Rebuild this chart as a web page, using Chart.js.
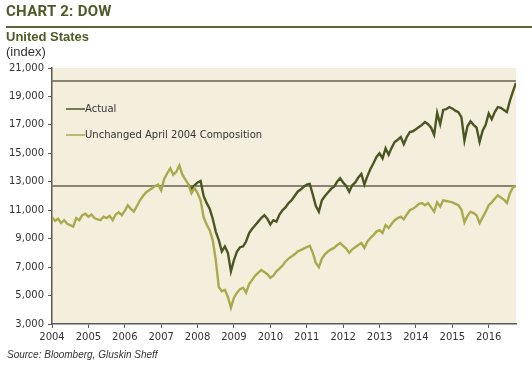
<!DOCTYPE html>
<html>
<head>
<meta charset="utf-8">
<script src="https://cdn.jsdelivr.net/npm/chart.js@4"></script>
<style>
  html, body { margin: 0; padding: 0; background: #fff; }
  #wrap { position: relative; width: 532px; height: 365px; overflow: hidden; }
  #chart { position: absolute; left: 0; top: 0; }
  .title { position: absolute; left: 6px; top: 2px; font: bold 15px "Liberation Sans Narrow", "Roboto", sans-serif; color: #4f5a28; letter-spacing: 0.3px; }
  .rule { position: absolute; left: 6px; right: 0; top: 26px; height: 2px; background: #5d633a; }
  .sub { position: absolute; left: 6px; top: 29px; font: bold 13px "Liberation Sans", sans-serif; color: #4f5a28; }
  .unit { position: absolute; left: 6px; top: 44px; font: 13px "Liberation Sans", sans-serif; color: #333; }
  .source { position: absolute; left: 7px; top: 349px; font: italic 10px "Liberation Sans", sans-serif; color: #333; }
</style>
</head>
<body>
<div id="wrap">
  <canvas id="chart" width="532" height="365"></canvas>
  <div class="title">CHART 2: DOW</div>
  <div class="rule"></div>
  <div class="sub">United States</div>
  <div class="unit">(index)</div>
  <div class="source">Source: Bloomberg, Gluskin Sheff</div>
</div>
<script>
// monthly readings, Jan 2004 .. Sep 2016 on the chart's own axis
const seriesNames = ['Actual', 'Unchanged April 2004 Composition'];

const unchanged = [
  10520, 10250, 10400, 10100, 10300, 10050, 9950, 9850, 10450, 10300, 10650, 10750,
  10550, 10700, 10450, 10350, 10300, 10550, 10450, 10600, 10300, 10700, 10850, 10650,
  10950, 11350, 11100, 10900, 11300, 11700, 12000, 12250, 12400, 12550, 12700, 12800,
  12400, 13200, 13600, 13950, 13500, 13700, 14150, 13500, 13150, 12800, 12200, 12550,
  12200, 11700, 10500, 10000, 9600, 8900, 7500, 5600, 5300, 5400, 4900, 4150,
  4850, 5200, 5450, 5550, 5200, 5800, 6100, 6400, 6600, 6800, 6650, 6500,
  6250, 6400, 6700, 6900, 7100, 7400, 7600, 7750, 7900, 8100, 8200, 8300,
  8400, 8500, 8000, 7300, 7000, 7600, 7900, 8100, 8250, 8350, 8550, 8700,
  8500, 8300, 8000, 8250, 8400, 8550, 8700, 8350, 8800, 9050, 9250, 9500,
  9600, 9400, 9950, 9750, 10050, 10300, 10450, 10550, 10350, 10700, 11000, 11100,
  11250, 11450, 11500, 11350, 11500, 11200, 10900, 11550, 11250, 11700, 11650, 11600,
  11550, 11450, 11350, 11050, 10150, 10600, 10900, 10800, 10650, 10100, 10500, 10900,
  11350, 11550, 11800, 12050, 11900, 11750, 11500, 12200, 12600, 12700
];

// actual index only shows once it leaves the unchanged line (late 2007)
const actual = [
  null, null, null, null, null, null, null, null, null, null, null, null,
  null, null, null, null, null, null, null, null, null, null, null, null,
  null, null, null, null, null, null, null, null, null, null, null, null,
  null, null, null, null, null, null, null, null, null, 12800, 12500, 12750,
  12950, 13050, 12000, 11500, 11100, 10400, 9500, 8900, 8100, 8450, 8000, 6700,
  7500, 8100, 8400, 8450, 8800, 9400, 9700, 9950, 10200, 10450, 10650, 10400,
  10000, 10300, 10200, 10700, 11000, 11200, 11500, 11700, 12000, 12300, 12450, 12650,
  12800, 12850, 12100, 11300, 10900, 11700, 12000, 12250, 12500, 12650, 13000, 13250,
  12950, 12700, 12300, 12750, 12950, 13300, 13550, 12800, 13400, 13900, 14300, 14750,
  15000, 14650, 15350, 14900, 15400, 15800, 15950, 16150, 15650, 16150, 16500, 16550,
  16700, 16850, 17000, 17200, 17050, 16800, 16300, 17850, 17050, 18050, 18100, 18250,
  18150, 18000, 17900, 17550, 15900, 16900, 17250, 17000, 16800, 15800, 16600, 17000,
  17800, 17400, 17900, 18250, 18200, 18050, 17900, 18700, 19350, 19950
];

const yearTicks = [2004, 2005, 2006, 2007, 2008, 2009, 2010, 2011, 2012, 2013, 2014, 2015, 2016];
const yTicks = [3000, 5000, 7000, 9000, 11000, 13000, 15000, 17000, 19000, 21000];
const refLevels = [20100, 12700];

const startYear = 2004;
const toPoints = arr => arr.map((v, i) => ({ x: startYear + i / 12, y: v }));
const lastX = startYear + (unchanged.length - 1) / 12;

const colActual = '#4c5622';
const colUnchanged = '#a9a94d';
const axisCol = '#5a5a5a';

const plotBg = {
  id: 'plotBg',
  beforeDraw(chart) {
    const a = chart.chartArea, ctx = chart.ctx;
    ctx.save();
    ctx.fillStyle = '#f4efdc';
    ctx.fillRect(a.left, a.top, a.right - a.left, a.bottom - a.top);
    ctx.restore();
  }
};

const refLines = {
  id: 'refLines',
  beforeDatasetsDraw(chart) {
    const a = chart.chartArea, ctx = chart.ctx, ys = chart.scales.y;
    ctx.save();
    ctx.strokeStyle = '#8b8473';
    ctx.lineWidth = 2;
    refLevels.forEach(v => {
      const py = Math.round(ys.getPixelForValue(v));
      ctx.beginPath();
      ctx.moveTo(a.left, py);
      ctx.lineTo(a.right, py);
      ctx.stroke();
    });
    ctx.restore();
  }
};

const insideLegend = {
  id: 'insideLegend',
  afterDatasetsDraw(chart) {
    const ctx = chart.ctx, a = chart.chartArea;
    const items = [
      { label: seriesNames[0], color: colActual },
      { label: seriesNames[1], color: colUnchanged }
    ];
    ctx.save();
    ctx.font = '10px "DejaVu Sans", sans-serif';
    ctx.textBaseline = 'middle';
    items.forEach((it, k) => {
      const y = a.top + 41 + k * 26;
      ctx.strokeStyle = it.color;
      ctx.lineWidth = 1.5;
      ctx.beginPath();
      ctx.moveTo(a.left + 14, y);
      ctx.lineTo(a.left + 33, y);
      ctx.stroke();
      ctx.fillStyle = '#333';
      ctx.fillText(it.label, a.left + 33, y);
    });
    ctx.restore();
  }
};

new Chart(document.getElementById('chart'), {
  type: 'line',
  data: {
    datasets: [
      {
        label: seriesNames[0],
        data: toPoints(actual),
        borderColor: colActual,
        borderWidth: 2.4,
        pointRadius: 0,
        spanGaps: false,
        order: 2
      },
      {
        label: seriesNames[1],
        data: toPoints(unchanged),
        borderColor: colUnchanged,
        borderWidth: 2.4,
        pointRadius: 0,
        order: 1
      }
    ]
  },
  options: {
    responsive: false,
    animation: false,
    layout: { padding: { left: 0, right: 16, top: 68, bottom: 0 } },
    plugins: {
      legend: { display: false },
      tooltip: { enabled: false }
    },
    scales: {
      x: {
        type: 'linear',
        min: startYear,
        max: lastX,
        afterBuildTicks: s => { s.ticks = yearTicks.map(v => ({ value: v })); },
        afterFit: s => { s.height = 41; },
        ticks: {
          color: '#333',
          font: { family: '"DejaVu Sans", sans-serif', size: 10 },
          maxRotation: 0,
          padding: 3,
          callback: v => String(v)
        },
        grid: { drawOnChartArea: false, drawTicks: true, tickLength: 4, color: axisCol },
        border: { display: true, color: axisCol, width: 1.5 }
      },
      y: {
        min: 3000,
        max: 21000,
        afterBuildTicks: s => { s.ticks = yTicks.map(v => ({ value: v })); },
        afterFit: s => { s.width = 52; },
        ticks: {
          color: '#333',
          font: { family: '"DejaVu Sans", sans-serif', size: 10 },
          padding: 4,
          callback: v => v.toLocaleString('en-US')
        },
        grid: { drawOnChartArea: false, drawTicks: true, tickLength: 4, color: axisCol },
        border: { display: true, color: axisCol, width: 1.5 }
      }
    }
  },
  plugins: [plotBg, refLines, insideLegend]
});
</script>
</body>
</html>
